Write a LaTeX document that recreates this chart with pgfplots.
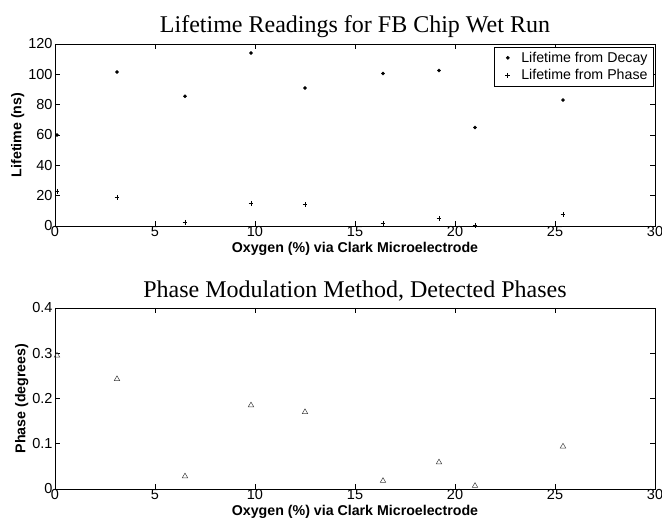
\documentclass[border=0pt]{standalone}
\usepackage{pgfplots}
\pgfplotsset{compat=1.18}
\usepackage{fontspec}
\setmainfont{Liberation Sans}
\newfontfamily\seriffont{Liberation Serif}
\begin{document}
\begin{tikzpicture}
\useasboundingbox (0pt,0pt) rectangle (662pt,525pt);
\pgfplotsset{
  mystyle/.style={
    scale only axis,
    width=600pt,
    xmin=0, xmax=30,
    xtick={0,5,...,30},
    tick align=inside,
    tick style={black, line width=0.5pt},
    major tick length=5pt,
    axis line style={black, line width=0.6pt},
    /pgf/number format/assume math mode=true,
    ticklabel style={font=\fontsize{14.5}{16}\selectfont},
    xlabel={Oxygen (\%) via Clark Microelectrode},
    xlabel style={font=\fontsize{14.2}{16}\selectfont\bfseries, yshift=1pt},
    ylabel style={font=\fontsize{14.2}{16}\selectfont\bfseries, yshift=-3pt},
    title style={font=\fontsize{24}{26}\seriffont, yshift=-3pt},
    xticklabel style={yshift=3pt},
    yticklabel style={xshift=1pt},
  }
}
\begin{axis}[mystyle,
  at={(55pt,299pt)}, anchor=south west,
  height=182pt,
  ymin=0, ymax=120, ytick={0,20,...,120},
  ylabel={Lifetime (ns)},
  title={Lifetime Readings for FB Chip Wet Run},
  legend style={at={(0.998,0.985)}, anchor=north east, draw=black, line width=0.5pt,
    font=\fontsize{14.2}{16}\selectfont, row sep=1.5pt, inner xsep=4pt, inner ysep=3pt},
  legend image code/.code={\draw[#1, only marks] plot coordinates {(0.33cm,0cm)}; \path (0cm,0cm) (0.72cm,0cm);},
  legend cell align=left,
]
\addplot[only marks, mark=*, mark size=1.6pt, black] coordinates {
 (0.1,60) (3.1,101.5) (6.5,85.5) (9.8,114) (12.5,91) (16.4,100.5) (19.2,102.5) (21,65) (25.4,83)
};
\addlegendentry{Lifetime from Decay}
\addplot[only marks, mark=+, mark size=2.4pt, black, line width=0.7pt] coordinates {
 (0.1,23) (3.1,19) (6.5,2.5) (9.8,15) (12.5,14) (16.4,1.5) (19.2,5) (21,0.5) (25.4,7.5)
};
\addlegendentry{Lifetime from Phase}
\end{axis}
\begin{axis}[mystyle,
  at={(55pt,36pt)}, anchor=south west,
  height=181pt,
  ymin=0, ymax=0.4, ytick={0,0.1,...,0.4},
  yticklabel style={/pgf/number format/fixed, /pgf/number format/precision=1},
  ylabel={Phase (degrees)},
  title={Phase Modulation Method, Detected Phases},
]
\addplot[only marks, mark=triangle, mark size=3.2pt, black!75, line width=0.5pt] coordinates {
 (0.1,0.295) (3.1,0.243) (6.5,0.028) (9.8,0.185) (12.5,0.17) (16.4,0.018) (19.2,0.059) (21,0.007) (25.4,0.094)
};
\end{axis}
\end{tikzpicture}
\end{document}
